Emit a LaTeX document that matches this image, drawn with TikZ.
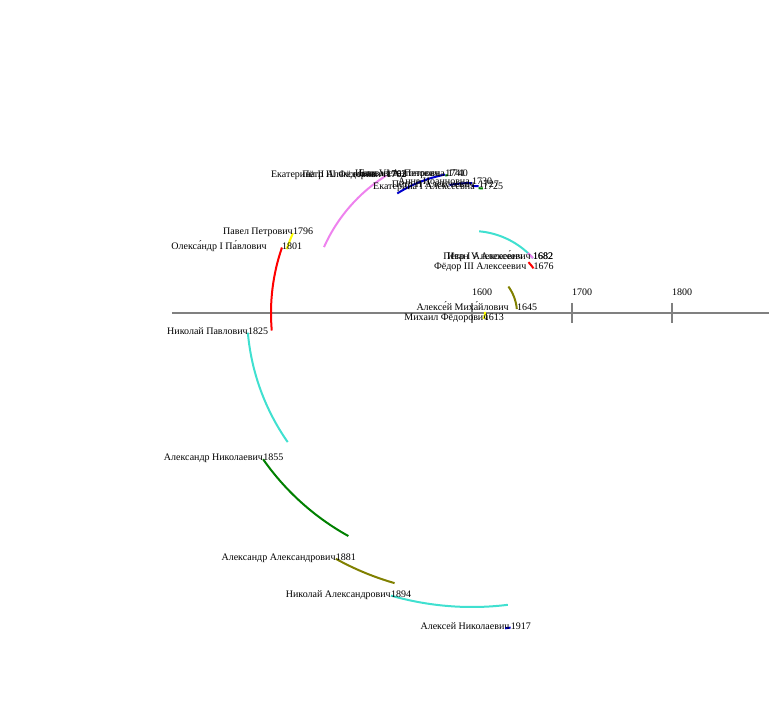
\documentclass[tikz,border=0pt]{standalone}
\usepackage{fontspec}
\setmainfont{Liberation Serif}
\definecolor{reignyellow}{RGB}{255, 255, 0}
\definecolor{reignolive}{RGB}{128, 128, 0}
\definecolor{reignred}{RGB}{255, 0, 0}
\definecolor{reignviolet}{RGB}{238, 130, 238}
\definecolor{reignturquoise}{RGB}{64, 224, 208}
\definecolor{reigngreen}{RGB}{0, 128, 0}
\definecolor{reignblue}{RGB}{0, 0, 205}
\definecolor{axisgray}{RGB}{128, 128, 128}

\begin{document}
\begin{tikzpicture}[x=1pt, y=1pt,
    reign/.style={line width=2pt},
    ruler/.style={anchor=base east, inner sep=0pt, yshift=-1.5pt, font=\fontsize{10}{12}\selectfont},
    since/.style={anchor=base west, inner sep=0pt, yshift=-1.5pt, font=\fontsize{10}{12}\selectfont}]
    \useasboundingbox (-472, 313) rectangle (297, -404);

    % Time axis
    \draw[axisgray, line width=2pt] (-300, 0) -- (297, 0);
    \draw[axisgray, line width=2pt] (0, 10) -- (0, -10);
    \draw[axisgray, line width=2pt] (100, 10) -- (100, -10);
    \draw[axisgray, line width=2pt] (200, 10) -- (200, -10);
    \node[since] (tick1600) at (0, 19) {1600};
    \node[since] (tick1700) at (100, 19) {1700};
    \node[since] (tick1800) at (200, 19) {1800};

    % Reigns: radius = start - 1600, angle = year - 1640
    \draw[reign, reignyellow] (-27:13) arc[start angle=-27, end angle=5, radius=13];
    \draw[reign, reignolive] (5:45) arc[start angle=5, end angle=36, radius=45];
    \draw[reign, reignred] (36:76) arc[start angle=36, end angle=42, radius=76];
    \draw[reign, reignturquoise] (42:82) arc[start angle=42, end angle=85, radius=82];
    \draw[reign, reignviolet] (42:82) arc[start angle=42, end angle=47, radius=82];
    \draw[reign, reigngreen] (85:125) arc[start angle=85, end angle=87, radius=125];
    \draw[reign, reignblue] (87:127) arc[start angle=87, end angle=90, radius=127];
    \draw[reign, reignblue] (90:130) arc[start angle=90, end angle=100, radius=130];
    \draw[reign, reigngreen] (100:140) arc[start angle=100, end angle=101, radius=140];
    \draw[reign, reignblue] (101:141) arc[start angle=101, end angle=122, radius=141];
    \draw[reign, reignviolet] (122:162) arc[start angle=122, end angle=156, radius=162];
    \draw[reign, reignyellow] (156:196) arc[start angle=156, end angle=161, radius=196];
    \draw[reign, reignred] (161:201) arc[start angle=161, end angle=185, radius=201];
    \draw[reign, reignturquoise] (185:225) arc[start angle=185, end angle=215, radius=225];
    \draw[reign, reigngreen] (215:255) arc[start angle=215, end angle=241, radius=255];
    \draw[reign, reignolive] (241:281) arc[start angle=241, end angle=254, radius=281];
    \draw[reign, reignturquoise] (254:294) arc[start angle=254, end angle=277, radius=294];
    \draw[reign, reignblue] (277:317) arc[start angle=277, end angle=276, radius=317];

    % Names and years
    \node[ruler, xshift=5pt] (mikhail) at (-27:13) {Михаил Фёдорович};
    \node[since] (mikhailY) at (-27:13) {1613};
    \node[ruler, xshift=-8pt] (alexei) at (5:45) {Алексе́й Миха́йлович};
    \node[since] (alexeiY) at (5:45) {1645};
    \node[ruler, xshift=-7pt] (fyodor) at (36:76) {Фёдор III Алексеевич};
    \node[since] (fyodorY) at (36:76) {1676};
    \node[ruler, xshift=-2pt] (ivanV) at (42:82) {Иван V Алексе́евич};
    \node[since] (ivanVY) at (42:82) {1682};
    \node[ruler, xshift=-10pt] (peterI) at (42:82) {Пётр I Алексеевич};
    \node[since] (peterIY) at (42:82) {1682};
    \node[ruler, xshift=-8pt] (catherineI) at (85:125) {Екатерина I Алексеевна};
    \node[since] (catherineIY) at (85:125) {1725};
    \node[ruler, xshift=-4pt] (peterII) at (87:127) {Пётр II Алексеевич};
    \node[since] (peterIIY) at (87:127) {1727};
    \node[ruler, xshift=-2pt] (anna) at (90:130) {Анна Иоанновна};
    \node[since] (annaY) at (90:130) {1730};
    \node[ruler, xshift=-8pt] (ivanVI) at (100:140) {Иван VI Антонович};
    \node[since] (ivanVIY) at (100:140) {1740};
    \node[ruler] (elizabeth) at (101:141) {Елизавета Петровна};
    \node[since] (elizabethY) at (101:141) {1741};
    \node[ruler] (peterIII) at (122:162) {Пётр III Фёдорович};
    \node[since] (peterIIIY) at (122:162) {1762};
    \node[ruler, xshift=-10pt] (catherineII) at (122:162) {Екатерина II Алексеевна};
    \node[since] (catherineIIY) at (122:162) {1762};
    \node[ruler] (paul) at (156:196) {Павел Петрович};
    \node[since] (paulY) at (156:196) {1796};
    \node[ruler, xshift=-15pt] (alexanderI) at (161:201) {Олекса́ндр I Па́влович};
    \node[since] (alexanderIY) at (161:201) {1801};
    \node[ruler] (nicholasI) at (185:225) {Николай Павлович};
    \node[since] (nicholasIY) at (185:225) {1825};
    \node[ruler] (alexanderII) at (215:255) {Александр Николаевич};
    \node[since] (alexanderIIY) at (215:255) {1855};
    \node[ruler] (alexanderIII) at (241:281) {Александр Александрович};
    \node[since] (alexanderIIIY) at (241:281) {1881};
    \node[ruler] (nicholasII) at (254:294) {Николай Александрович};
    \node[since] (nicholasIIY) at (254:294) {1894};
    \node[ruler, xshift=-1pt] (alexeiN) at (277:317) {Алексей Николаевич};
    \node[since] (alexeiNY) at (277:317) {1917};
\end{tikzpicture}
\end{document}
